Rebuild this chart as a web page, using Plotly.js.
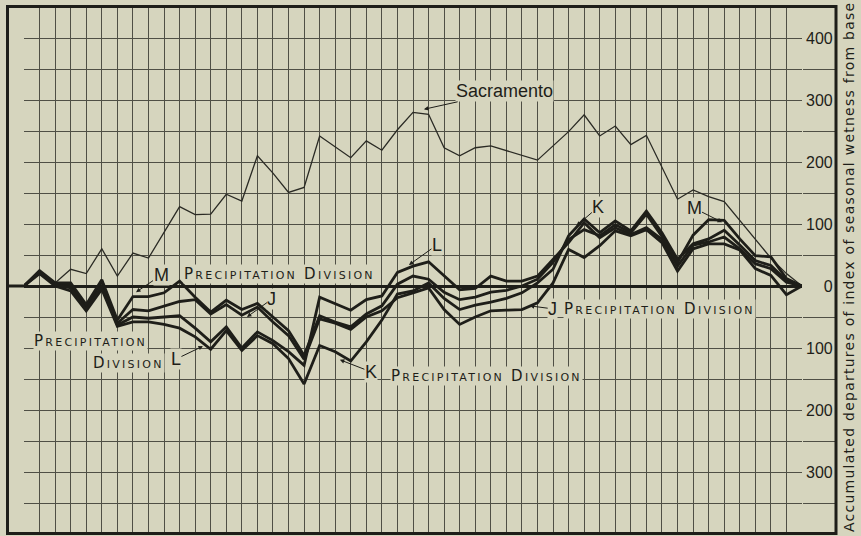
<!DOCTYPE html>
<html>
<head>
<meta charset="utf-8">
<script src="https://cdn.plot.ly/plotly-3.0.1.min.js"></script>
<style>
html,body{margin:0;padding:0;background:#d6d5be;}
#chart{width:861px;height:536px;}
</style>
</head>
<body>
<div id="chart"></div>
<script>
// ---- data ----
const seasons = [0,1,2,3,4,5,6,7,8,9,10,11,12,13,14,15,16,17,18,19,20,21,22,23,24,25,26,27,28,29,30,31,32,33,34,35,36,37,38,39,40,41,42,43,44,45,46,47,48,49,50];
const sacramento = [0,25,5,27,20,60,16,53,45,87,128,115,116,148,137,210,182,151,159,242,225,207,234,219,252,280,277,223,210,223,226,218,211,203,226,249,276,242,258,228,243,191,140,155,144,136,106,75,45,20,0];
const divisionJ = [0,23,3,2,-35,8,-60,-38,-40,-32,-25,-22,-45,-30,-47,-34,-58,-80,-118,-53,-60,-70,-50,-40,-19,-11,-3,-38,-62,-50,-40,-39,-38,-27,5,59,46,65,89,81,91,70,24,60,68,68,58,28,17,-14,0];
const divisionK = [0,20,0,-8,-40,-5,-65,-58,-58,-62,-68,-82,-102,-72,-104,-80,-93,-117,-158,-96,-106,-121,-90,-55,-13,-8,5,-20,-38,-31,-26,-20,-11,5,27,81,108,86,105,89,121,86,43,68,76,90,66,41,33,9,0];
const divisionL = [0,22,2,-3,-38,0,-63,-50,-52,-50,-48,-68,-90,-66,-100,-74,-88,-106,-128,-18,-28,-39,-22,-16,22,32,39,16,-6,-4,16,8,8,16,43,70,102,78,94,83,94,75,32,66,71,79,60,36,28,6,0];
const divisionM = [0,25,5,5,-30,10,-55,-17,-17,-11,8,-18,-42,-23,-38,-28,-50,-72,-112,-48,-58,-66,-45,-32,3,16,11,-10,-22,-18,-10,-7,0,11,38,75,91,81,99,86,116,80,38,82,107,106,76,49,47,12,0];
const yTickValues = [400,300,200,100,0,-100,-200,-300];
const yTickLabels = ['400','300','200','100','\u00a0\u00a0\u00a0\u00a00','100','200','300'];
const yMinorValues = [-350,-250,-150,-50,50,150,250,350];
const yTitle = 'Accumulated departures of index of seasonal wetness from base';

// ---- styling ----
const BG = '#d6d5be';
const INK = '#1e1e19';
const GRID = '#4f4f45';
const W = 861, H = 536;
const L = 24, R = 802, T = 7, B = 534;
const px2x = p => (p - L) / (R - L);
const py2y = p => (B - p) / (B - T);

const thick = {color: INK, width: 2.8};
const traces = [
  {x: seasons, y: sacramento, name: 'Sacramento', mode: 'lines', line: {color: '#2a2a24', width: 1.3}},
  {x: seasons, y: divisionJ, name: 'J Precipitation Division', mode: 'lines', line: thick},
  {x: seasons, y: divisionK, name: 'K Precipitation Division', mode: 'lines', line: thick},
  {x: seasons, y: divisionL, name: 'L Precipitation Division', mode: 'lines', line: thick},
  {x: seasons, y: divisionM, name: 'M Precipitation Division', mode: 'lines', line: thick}
];

const letterFont = {family: 'Liberation Sans, Arial, sans-serif', size: 18, color: INK};
const scFont = {family: 'DejaVu Sans, sans-serif', size: 15, color: INK, variant: 'small-caps'};
const sc = t => '<span style="letter-spacing:2.25px">' + t + '</span>';
const arrow = {showarrow: true, arrowhead: 2, arrowsize: 0.9, arrowwidth: 1, arrowcolor: INK, standoff: 0, xref: 'x', yref: 'y', bgcolor: BG, borderpad: 0};
const plain = {showarrow: false, xref: 'paper', yref: 'paper', bgcolor: BG, borderpad: 0};

const annotations = [
  Object.assign({}, arrow, {text: 'Sacramento', x: 25.7, y: 285, ax: 81, ay: -18, font: {family: 'Liberation Sans, Arial, sans-serif', size: 18, color: INK}}),
  Object.assign({}, arrow, {text: 'M', x: 7.2, y: -10, ax: 25, ay: -17, font: letterFont}),
  Object.assign({}, plain, {text: sc('Precipitation Division'), x: px2x(183), y: py2y(274), xanchor: 'left', yanchor: 'middle', font: scFont}),
  Object.assign({}, arrow, {text: 'J', x: 14.33, y: -50, ax: 25, ay: -18, font: letterFont}),
  Object.assign({}, plain, {text: sc('Precipitation'), x: px2x(33), y: py2y(341), xanchor: 'left', yanchor: 'middle', font: scFont}),
  Object.assign({}, plain, {text: sc('Division'), x: px2x(92), y: py2y(363), xanchor: 'left', yanchor: 'middle', font: scFont}),
  Object.assign({}, arrow, {text: 'L', x: 11.5, y: -97, ax: -27, ay: 13, font: letterFont}),
  Object.assign({}, arrow, {text: 'K', x: 20.3, y: -119, ax: 31, ay: 12, font: letterFont}),
  Object.assign({}, plain, {text: sc('Precipitation Division'), x: px2x(390), y: py2y(376), xanchor: 'left', yanchor: 'middle', font: scFont}),
  Object.assign({}, arrow, {text: 'L', x: 24.74, y: 34, ax: 28, ay: -20, font: letterFont}),
  Object.assign({}, arrow, {text: 'J', x: 32.5, y: -32, ax: 23, ay: 3, font: letterFont}),
  Object.assign({}, plain, {text: sc('Precipitation Division'), x: px2x(563), y: py2y(309), xanchor: 'left', yanchor: 'middle', font: scFont}),
  Object.assign({}, arrow, {text: 'K', x: 35.5, y: 97, ax: 22, ay: -19, font: letterFont}),
  Object.assign({}, arrow, {text: 'M', x: 44.86, y: 103, ax: -28, ay: -14, font: letterFont}),
  {text: '<span style="letter-spacing:1.25px">' + yTitle + '</span>', showarrow: false, xref: 'paper', yref: 'paper',
   x: px2x(849), y: py2y(534), xanchor: 'center', yanchor: 'bottom', textangle: -90,
   font: {family: 'DejaVu Sans, sans-serif', size: 14, color: INK}}
];

const shapes = [
  // zero line across the left margin strip
  {type: 'line', xref: 'paper', yref: 'y', x0: px2x(7), x1: 0, y0: 0, y1: 0, line: {color: INK, width: 3}},
  // outer frame
  {type: 'rect', xref: 'paper', yref: 'paper', x0: px2x(7.5), x1: px2x(836), y0: py2y(533.5), y1: py2y(6.5), line: {color: INK, width: 3}, layer: 'above'}
];

const layout = {
  width: W, height: H,
  margin: {l: L, r: W - R, t: T, b: H - B, pad: 0},
  paper_bgcolor: BG, plot_bgcolor: BG,
  showlegend: false,
  hovermode: false,
  xaxis: {range: [0, 50], tickmode: 'array', tickvals: seasons, showgrid: true, gridcolor: GRID, gridwidth: 1,
          showticklabels: false, ticks: '', zeroline: false, showline: false, fixedrange: true},
  yaxis: {range: [-400, 450], side: 'right', tickmode: 'array', tickvals: yTickValues, ticktext: yTickLabels,
          ticks: '', ticklabelstandoff: 3, showgrid: true, gridcolor: GRID, gridwidth: 1,
          zeroline: true, zerolinecolor: INK, zerolinewidth: 3, showline: false, fixedrange: true,
          tickfont: {family: 'Liberation Sans, Arial, sans-serif', size: 16, color: INK},
          minor: {tickmode: 'array', tickvals: yMinorValues, showgrid: true, gridcolor: GRID, gridwidth: 1,
                  ticks: 'outside', ticklen: 34, tickcolor: GRID, tickwidth: 1}},
  annotations: annotations,
  shapes: shapes
};

Plotly.newPlot('chart', traces, layout, {staticPlot: true, displayModeBar: false});
</script>
</body>
</html>
